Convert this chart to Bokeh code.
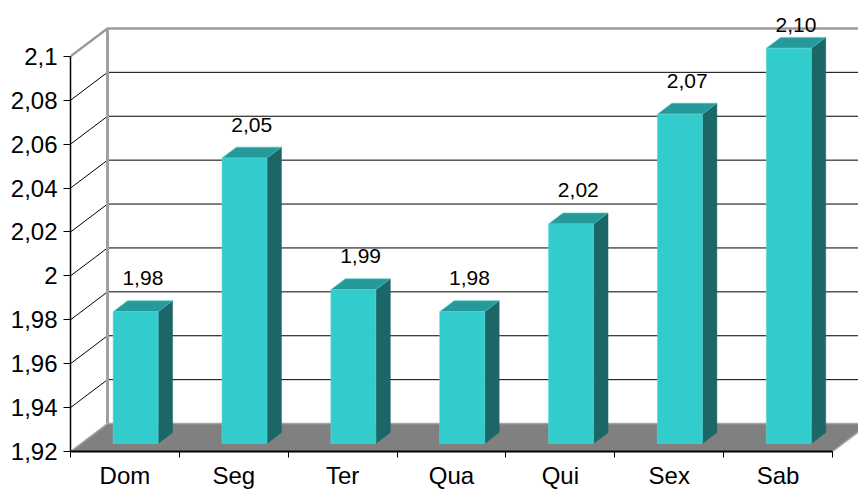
from bokeh.plotting import figure
from bokeh.models import Range1d, FixedTicker, CustomJSTickFormatter
from bokeh.core.properties import value
from bokeh.embed import file_html
from bokeh.resources import INLINE

# Average values per weekday
days = ["Dom", "Seg", "Ter", "Qua", "Qui", "Sex", "Sab"]
values = [1.98, 2.05, 1.99, 1.98, 2.02, 2.07, 2.10]
y_ticks = [1.92, 1.94, 1.96, 1.98, 2.00, 2.02, 2.04, 2.06, 2.08, 2.10]

FONT = "Liberation Sans"
Y0, Y1 = 1.92, 2.10

# pixel geometry of the plotting frame
FRAME_W, FRAME_H = 788, 452
CAT_PX = 762 / len(days)          # pixels per category
Y_PX = 2200.0                     # pixels per y unit
x_end = FRAME_W / CAT_PX
y_end = Y0 + FRAME_H / Y_PX

# 3D depth offset of the back wall, in data units
DX = 37 / CAT_PX
DY = 28 / Y_PX
# bars occupy this slice of the depth, width in category units
F0, F1 = 0.29, 0.68
BW = 45 / CAT_PX

p = figure(width=858, height=491, x_range=Range1d(0, x_end), y_range=Range1d(Y0, y_end),
           output_backend="svg", toolbar_location=None,
           min_border_left=70, min_border_right=0, min_border_top=0, min_border_bottom=39)
p.outline_line_color = None
p.xgrid.visible = False
p.ygrid.visible = False
p.background_fill_color = "white"

# --- walls -------------------------------------------------------------
n = len(days)
inner = [t for t in y_ticks if Y0 < t < Y1]
# back-wall gridlines
p.segment(x0=[DX] * len(inner), y0=[t + DY for t in inner],
          x1=[x_end + 1] * len(inner), y1=[t + DY for t in inner],
          line_color="black", line_width=1)
# side-wall diagonals
p.segment(x0=[0] * len(inner), y0=inner, x1=[DX] * len(inner), y1=[t + DY for t in inner],
          line_color="black", line_width=1)
# wall outline (top edge, back-left edge, top diagonal)
p.line(x=[0, DX, x_end + 1], y=[Y1, Y1 + DY, Y1 + DY], line_color="#9a9a9a", line_width=2.5)
p.line(x=[DX, DX], y=[Y0 + DY, Y1 + DY], line_color="#a0a0a0", line_width=3)

# floor
p.patch(x=[0, n, n + DX, DX], y=[Y0, Y0, Y0 + DY, Y0 + DY],
        fill_color="#808080", line_color="#a6a6a6", line_width=1.5)

# --- bars ---------------------------------------------------------------
x0s, x1s, tops = [], [], []
side_x, side_y, top_x, top_y = [], [], [], []
ddx, ddy = (F1 - F0) * DX, (F1 - F0) * DY
yb = Y0 + F0 * DY
for i, v in enumerate(values):
    x0 = i + 0.5 - BW / 2 + F0 * DX
    x1 = x0 + BW
    yt = v + F0 * DY
    x0s.append(x0)
    x1s.append(x1)
    tops.append(yt)
    side_x.append([x1, x1, x1 + ddx, x1 + ddx])
    side_y.append([yb, yt, yt + ddy, yb + ddy])
    top_x.append([x0, x1, x1 + ddx, x0 + ddx])
    top_y.append([yt, yt, yt + ddy, yt + ddy])

p.patches(xs=side_x, ys=side_y, fill_color="#1b6666", line_color="#1b6666", line_width=0.5)
p.patches(xs=top_x, ys=top_y, fill_color="#269a9a", line_color="#4fc4c4", line_width=0.6)
p.quad(left=x0s, right=x1s, bottom=[yb] * n, top=tops,
       fill_color="#33cccc", line_color="#5ad6d6", line_width=0.6)

# value labels above each bar
FM = (F0 + F1) / 2
label_cap = Y0 + (FRAME_H - 25) / Y_PX
lab_x = [i + 0.5 + FM * DX for i in range(n)]
lab_y = [min(v + FM * DY + 28 / Y_PX, label_cap) for v in values]
lab_t = [f"{v:.2f}".replace(".", ",") for v in values]
p.text(x=lab_x, y=lab_y, text=lab_t, text_font=value(FONT), text_font_size="21px",
       text_align="center", text_baseline="middle", text_color="black")

# --- axes ---------------------------------------------------------------
ya = p.yaxis[0]
ya.ticker = FixedTicker(ticks=y_ticks)
ya.bounds = (Y0, Y1)
ya.formatter = CustomJSTickFormatter(
    code="return String(parseFloat(tick.toFixed(2))).replace('.', ',');")
ya.axis_line_color = "black"
ya.axis_line_width = 1.5
ya.major_tick_out = 7
ya.major_tick_in = 0
ya.minor_tick_line_color = None
ya.major_label_standoff = 6
ya.major_label_text_font = FONT
ya.major_label_text_font_size = "24px"
ya.major_label_text_color = "black"

xa = p.xaxis[0]
xa.ticker = FixedTicker(ticks=[i + 0.5 for i in range(n)], minor_ticks=list(range(n + 1)))
xa.bounds = (0, n)
xa.major_label_overrides = {i + 0.5: d for i, d in enumerate(days)}
xa.major_tick_line_color = None
xa.minor_tick_out = 6
xa.minor_tick_in = 0
xa.minor_tick_line_color = "black"
xa.axis_line_color = "black"
xa.axis_line_width = 2
xa.major_label_standoff = 4
xa.major_label_text_line_height = 1.0
xa.major_label_text_font = FONT
xa.major_label_text_font_size = "24px"
xa.major_label_text_color = "black"

open("out.html", "w").write(file_html(p, INLINE))
